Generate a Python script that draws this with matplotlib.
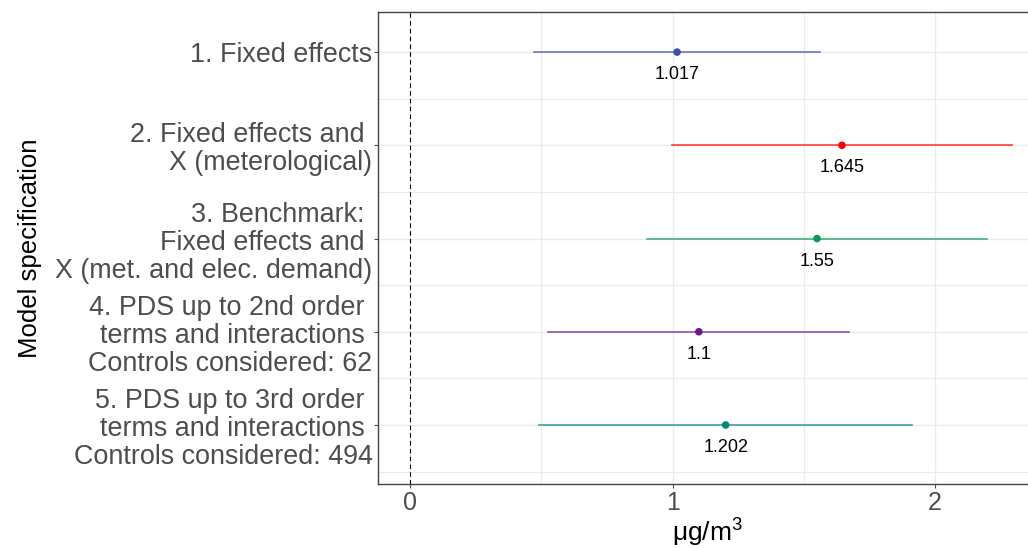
import matplotlib
matplotlib.use("Agg")
import matplotlib.pyplot as plt
from matplotlib.ticker import MultipleLocator, FixedLocator

plt.rcParams['font.family'] = ['Liberation Sans', 'DejaVu Sans']

# === DATOS ===
modelos = [
    "1. Fixed effects",
    "2. Fixed effects and \nX (meterological)",
    "3. Benchmark: \nFixed effects and \nX (met. and elec. demand)",
    "4. PDS up to 2nd order \nterms and interactions \nControls considered: 62",
    "5. PDS up to 3rd order \nterms and interactions \nControls considered: 494",
]
estimacion = [1.017, 1.645, 1.55, 1.1, 1.202]
ic_inf = [0.471, 0.996, 0.901, 0.527, 0.490]
ic_sup = [1.561, 2.293, 2.198, 1.673, 1.913]
etiquetas = ["1.017", "1.645", "1.55", "1.1", "1.202"]
colores = ['#3f4fa8', '#ff0000', '#0b9a55', '#6a1b8a', '#00897b']

# === GRAFICAR ===
fig = plt.figure(figsize=(10.28, 5.48), dpi=100, facecolor='white')
ax = fig.add_axes([378/1028, 1 - 484/548, 658/1028, 472/548])

pos_y = list(range(len(modelos), 0, -1))

# grilla
ax.set_axisbelow(True)
ax.xaxis.set_major_locator(FixedLocator([0, 1, 2]))
ax.xaxis.set_minor_locator(MultipleLocator(0.5))
ax.yaxis.set_major_locator(FixedLocator(pos_y))
ax.yaxis.set_minor_locator(FixedLocator([0.5, 1.5, 2.5, 3.5, 4.5, 5.5]))
ax.grid(True, which='major', color='#ebebeb', linewidth=1.0)
ax.grid(True, which='minor', color='#ebebeb', linewidth=0.8)

ax.axvline(0, color='black', linestyle=(0, (4, 3)), linewidth=0.8, zorder=2)

for y, est, lo, hi, lab, col in zip(pos_y, estimacion, ic_inf, ic_sup, etiquetas, colores):
    ax.plot([lo, hi], [y, y], color=col, linewidth=1.2, alpha=0.75, zorder=3)
    ax.scatter([est], [y], color=col, s=30, zorder=4, edgecolors='none')
    ax.annotate(lab, xy=(est, y), xytext=(0, -14), textcoords='offset pixels',
                ha='center', va='top', fontsize=13, color='black')

ax.set_xlim(-0.122, 2.384)
ax.set_ylim(0.367, 5.43)

ax.set_yticks(pos_y)
ax.set_yticklabels(modelos, fontsize=19.4, color='#4d4d4d', linespacing=1.1,
                   multialignment='right')
ax.set_xticklabels(['0', '1', '2'], fontsize=18, color='#4d4d4d')

ax.tick_params(axis='y', which='major', length=3, width=0.8, color='#4d4d4d', pad=1)
ax.tick_params(axis='x', which='major', length=3, width=0.8, color='#4d4d4d', pad=2)
ax.tick_params(axis='both', which='minor', length=0)

for s in ['left', 'bottom', 'top']:
    ax.spines[s].set_color('#444444')
    ax.spines[s].set_linewidth(1.0)
ax.spines['right'].set_visible(False)

ax.set_xlabel(r'$\mathregular{\mu g/m^3}$', fontsize=19, color='black', labelpad=1)
fig.text(30/1028, 1 - 248/548, 'Model specification', rotation=90,
         ha='center', va='center', fontsize=18.5, color='black')

fig.savefig('out.png', dpi=100, facecolor='white')
